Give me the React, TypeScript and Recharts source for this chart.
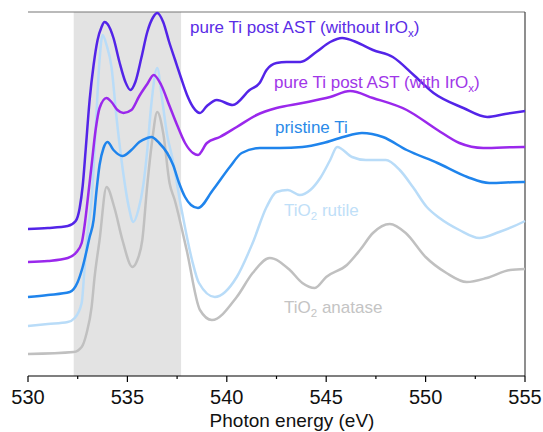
import { LineChart, Line, XAxis, YAxis, ReferenceArea, ReferenceLine } from "recharts"

// photon energies (eV) and normalised intensities (a.u., offset)
const withoutIrE = [530, 531, 532, 532.4, 532.6, 532.75, 532.9, 533.1, 533.3, 533.5, 533.7, 533.85, 534, 534.3, 534.6, 534.9, 535.15, 535.4, 535.7, 536, 536.3, 536.5, 536.8, 537.1, 537.4, 537.7, 538, 538.3, 538.65, 539, 539.5, 540.3, 541.15, 541.65, 542, 542.5, 543, 543.7, 544.5, 545.2, 545.8, 546.5, 547.35, 548.35, 549.4, 550.4, 551.9, 553.1, 554, 555]
const withoutIrI = [147, 148, 150, 155, 168, 190, 226, 276, 311, 336, 349, 354, 352, 338, 314, 294, 286, 294, 318, 344, 359, 363, 354, 334, 316, 298, 281, 269, 263, 270, 276, 271, 286, 293, 306, 313, 314, 314, 324, 334, 338, 334, 326, 319, 301, 283, 268, 259, 262, 265]

const withIrE = [530, 531, 532, 532.4, 532.7, 532.85, 533, 533.2, 533.4, 533.6, 533.95, 534.2, 534.5, 534.8, 535.2, 535.6, 536, 536.32, 536.7, 537.1, 537.5, 537.9, 538.3, 538.55, 539, 539.65, 540.5, 541.5, 542.5, 543.8, 545.2, 546.2, 547.35, 549.05, 550.6, 551.7, 552.9, 554.9, 555]
const withIrI = [114, 115, 118, 123, 133, 151, 176, 211, 246, 268, 278, 274, 266, 263, 266, 280, 292, 301, 291, 271, 251, 233, 223, 221, 233, 239, 249, 261, 268, 273, 279, 285, 278, 266, 246, 233, 228, 229, 229]

const pristineE = [530, 531, 532.1, 532.5, 532.75, 533.1, 533.3, 533.45, 533.6, 533.8, 534, 534.3, 534.75, 535.2, 535.6, 536, 536.2, 536.6, 537, 537.3, 537.6, 537.9, 538.2, 538.55, 539.3, 540.15, 540.75, 541.66, 542.65, 543.8, 544.85, 545.85, 546.8, 547.85, 549.05, 550.6, 552.1, 553.2, 554.9, 555]
const pristineI = [79, 81, 84, 94, 109, 139, 156, 186, 211, 228, 234, 226, 220, 226, 234, 238, 239, 233, 223, 211, 193, 179, 171, 168, 186, 209, 223, 228, 228, 229, 233, 239, 243, 239, 226, 213, 199, 193, 194, 194]

const rutileE = [530, 531, 532, 532.35, 532.7, 532.85, 533, 533.2, 533.4, 533.6, 533.75, 533.95, 534.2, 534.45, 534.75, 535.05, 535.3, 535.55, 535.8, 536, 536.2, 536.5, 536.75, 537, 537.25, 537.7, 538.25, 538.6, 539.4, 540.5, 541.3, 542, 542.5, 543.07, 543.67, 544.2, 544.7, 545.2, 545.55, 546.3, 547, 548, 548.7, 549.36, 550.06, 550.7, 551.7, 552.7, 553.7, 554.9, 555]
const rutileI = [50, 52, 54, 58, 73, 109, 143, 176, 246, 316, 341, 331, 309, 259, 209, 171, 154, 166, 191, 226, 271, 308, 276, 241, 219, 169, 116, 93, 79, 99, 133, 169, 184, 186, 181, 186, 198, 216, 229, 219, 216, 216, 206, 189, 169, 158, 146, 138, 144, 154, 155]

const anataseE = [530, 532.3, 532.7, 532.95, 533.2, 533.35, 533.6, 533.95, 534.35, 534.75, 535.25, 535.5, 535.75, 536, 536.25, 536.5, 536.8, 537.12, 537.38, 537.98, 538.65, 539.25, 540.5, 541.3, 542.16, 543.17, 543.8, 544.43, 545, 546.04, 546.7, 547.35, 548.2, 549, 550, 551.05, 552.07, 553.08, 554.24, 555]
const anataseI = [22, 24, 29, 43, 69, 99, 136, 189, 168, 136, 109, 116, 136, 191, 236, 264, 243, 193, 176, 126, 66, 56, 79, 103, 118, 106, 93, 88, 99, 111, 126, 143, 152, 143, 119, 103, 94, 98, 106, 107]

const energyTicks = [530, 532.5, 535, 537.5, 540, 542.5, 545, 547.5, 550, 552.5, 555]
const highlight = [532.3, 537.7]

const toRows = (e: number[], v: number[]) => e.map((x, i) => ({ e: x, v: v[i] }))

const FONT = "'Liberation Sans', Arial, sans-serif"

function EnergyTick({ x, y, payload }: any) {
  const major = payload.value % 5 === 0
  return (
    <g>
      <line x1={x} x2={x} y1={y} y2={y + (major ? 6 : 3)} stroke="#000" strokeWidth={1.2} />
      {major && (
        <text x={x} y={y + 28} textAnchor="middle" fontSize={20} fill="#111" fontFamily={FONT}>
          {payload.value}
        </text>
      )}
    </g>
  )
}

const series = [
  { key: "anatase", rows: toRows(anataseE, anataseI), color: "#c0c0c0" },
  { key: "rutile", rows: toRows(rutileE, rutileI), color: "#b9dcf8" },
  { key: "pristine", rows: toRows(pristineE, pristineI), color: "#1f84ec" },
  { key: "withIr", rows: toRows(withIrE, withIrI), color: "#9a28ec" },
  { key: "withoutIr", rows: toRows(withoutIrE, withoutIrI), color: "#5324e8" },
]

export default function App() {
  return (
    <div style={{ position: "absolute", left: 0, top: 0, width: 543, height: 432, background: "#fff" }}>
      <LineChart width={543} height={432} margin={{ top: 12, right: 18, left: 28, bottom: 0 }}>
        <ReferenceArea x1={highlight[0]} x2={highlight[1]} fill="#e3e3e3" fillOpacity={1} stroke="none" />
        <XAxis
          dataKey="e"
          type="number"
          domain={[530, 555]}
          ticks={energyTicks}
          interval={0}
          height={56}
          tickSize={0}
          tickMargin={0}
          tick={<EnergyTick />}
          axisLine={{ stroke: "#000", strokeWidth: 1.2 }}
          allowDuplicatedCategory={false}
        />
        <YAxis type="number" domain={[0, 364]} width={0} tick={false} tickLine={false} axisLine={{ stroke: "#000", strokeWidth: 1.2 }} />
        <ReferenceLine y={364} stroke="#777" strokeWidth={1.2} />
        <ReferenceLine x={555} stroke="#444" strokeWidth={1.2} />
        {series.map((s) => (
          <Line
            key={s.key}
            data={s.rows}
            dataKey="v"
            type="monotone"
            stroke={s.color}
            strokeWidth={2.5}
            dot={false}
            isAnimationActive={false}
          />
        ))}
      </LineChart>
      <svg width={543} height={432} style={{ position: "absolute", left: 0, top: 0, pointerEvents: "none" }} fontFamily={FONT}>
        <text x={190} y={33} fontSize={17} fill="#5a2ce6">
          pure Ti post AST (without IrO<tspan fontSize={11.5} dy={4}>x</tspan><tspan dy={-4}>)</tspan>
        </text>
        <text x={274} y={87.5} fontSize={17} fill="#a036e8">
          pure Ti post AST (with IrO<tspan fontSize={11.5} dy={4}>x</tspan><tspan dy={-4}>)</tspan>
        </text>
        <text x={275} y={132.5} fontSize={17} fill="#2a8ae8">
          pristine Ti
        </text>
        <text x={284} y={215.5} fontSize={17} fill="#bfe0f8">
          TiO<tspan fontSize={11.5} dy={4}>2</tspan><tspan dy={-4}> rutile</tspan>
        </text>
        <text x={284} y={312.5} fontSize={17} fill="#c4c4c4">
          TiO<tspan fontSize={11.5} dy={4}>2</tspan><tspan dy={-4}> anatase</tspan>
        </text>
        <text x={292} y={427} fontSize={19} fill="#111" textAnchor="middle">
          Photon energy (eV)
        </text>
      </svg>
    </div>
  )
}
